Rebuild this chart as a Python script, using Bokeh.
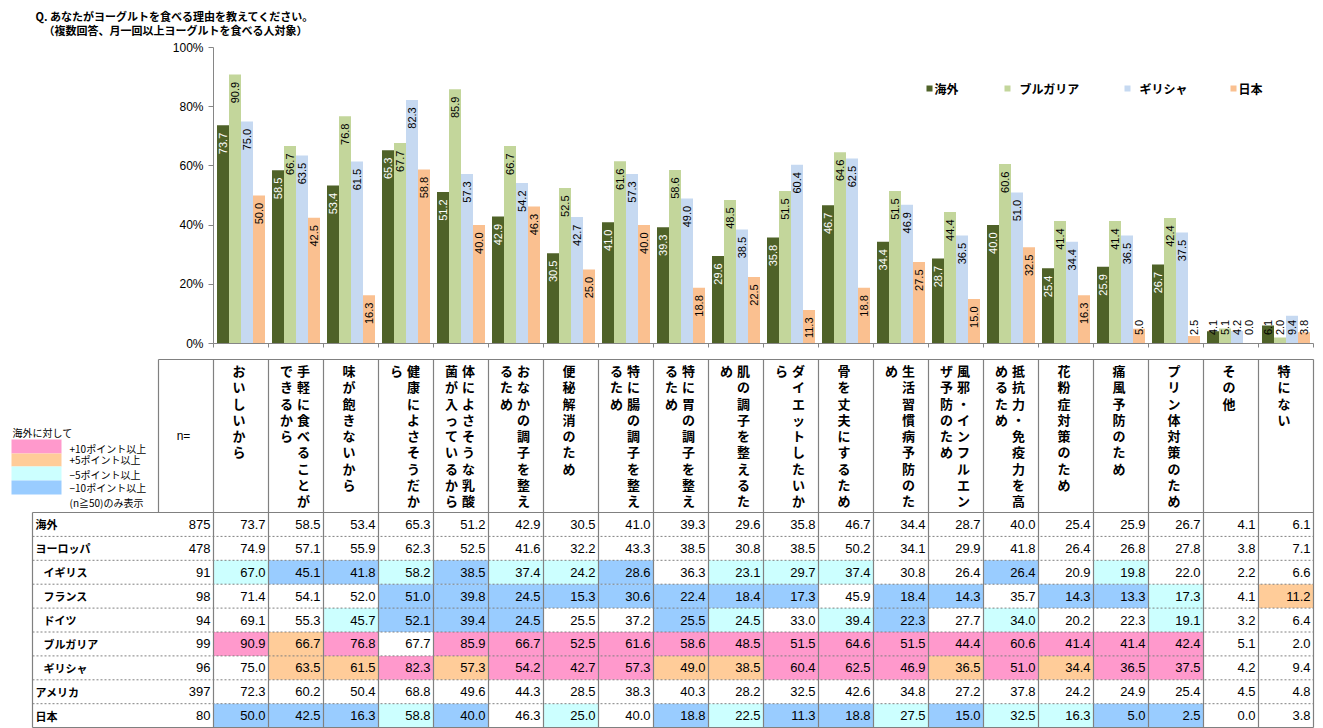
import numpy as np
from bokeh.plotting import figure
from bokeh.models import Range1d, FixedTicker, PrintfTickFormatter, ColumnDataSource
from bokeh.layouts import column
from bokeh.embed import file_html
from bokeh.resources import INLINE
from bokeh.core.properties import value

# ---------------- data ----------------
title_lines = ["Q. あなたがヨーグルトを食べる理由を教えてください。",
               "（複数回答、月一回以上ヨーグルトを食べる人対象）"]

categories = ["おいしいから", "手軽に食べることができるから", "味が飽きないから", "健康によさそうだから",
              "体によさそうな乳酸菌が入っているから", "おなかの調子を整えるため", "便秘解消のため",
              "特に腸の調子を整えるため", "特に胃の調子を整えるため", "肌の調子を整えるため",
              "ダイエットしたいから", "骨を丈夫にするため", "生活習慣病予防のため",
              "風邪・インフルエンザ予防のため", "抵抗力・免疫力を高めるため", "花粉症対策のため",
              "痛風予防のため", "プリン体対策のため", "その他", "特にない"]

kaigai   = [73.7, 58.5, 53.4, 65.3, 51.2, 42.9, 30.5, 41.0, 39.3, 29.6, 35.8, 46.7, 34.4, 28.7, 40.0, 25.4, 25.9, 26.7, 4.1, 6.1]
europe   = [74.9, 57.1, 55.9, 62.3, 52.5, 41.6, 32.2, 43.3, 38.5, 30.8, 38.5, 50.2, 34.1, 29.9, 41.8, 26.4, 26.8, 27.8, 3.8, 7.1]
uk       = [67.0, 45.1, 41.8, 58.2, 38.5, 37.4, 24.2, 28.6, 36.3, 23.1, 29.7, 37.4, 30.8, 26.4, 26.4, 20.9, 19.8, 22.0, 2.2, 6.6]
france   = [71.4, 54.1, 52.0, 51.0, 39.8, 24.5, 15.3, 30.6, 22.4, 18.4, 17.3, 45.9, 18.4, 14.3, 35.7, 14.3, 13.3, 17.3, 4.1, 11.2]
germany  = [69.1, 55.3, 45.7, 52.1, 39.4, 24.5, 25.5, 37.2, 25.5, 24.5, 33.0, 39.4, 22.3, 27.7, 34.0, 20.2, 22.3, 19.1, 3.2, 6.4]
bulgaria = [90.9, 66.7, 76.8, 67.7, 85.9, 66.7, 52.5, 61.6, 58.6, 48.5, 51.5, 64.6, 51.5, 44.4, 60.6, 41.4, 41.4, 42.4, 5.1, 2.0]
greece   = [75.0, 63.5, 61.5, 82.3, 57.3, 54.2, 42.7, 57.3, 49.0, 38.5, 60.4, 62.5, 46.9, 36.5, 51.0, 34.4, 36.5, 37.5, 4.2, 9.4]
usa      = [72.3, 60.2, 50.4, 68.8, 49.6, 44.3, 28.5, 38.3, 40.3, 28.2, 32.5, 42.6, 34.8, 27.2, 37.8, 24.2, 24.9, 25.4, 4.5, 4.8]
japan    = [50.0, 42.5, 16.3, 58.8, 40.0, 46.3, 25.0, 40.0, 18.8, 22.5, 11.3, 18.8, 27.5, 15.0, 32.5, 16.3, 5.0, 2.5, 0.0, 3.8]

row_labels = ["海外", "ヨーロッパ", "イギリス", "フランス", "ドイツ", "ブルガリア", "ギリシャ", "アメリカ", "日本"]
row_sub    = [False, False, True, True, True, True, True, False, False]
row_n      = [875, 478, 91, 98, 94, 99, 96, 397, 80]
row_values = [kaigai, europe, uk, france, germany, bulgaria, greece, usa, japan]
row_marks = ["....................",
             "....................",
             "CBBCBCCB.CCC..B.C...",
             "...BBBBBBBB.BB.BBC.O",
             "..CBBB..BC.CB.C..C..",
             "POP.PPPPPPPPPPPPPP..",
             ".OOPOPPPOOPPPOPOPP..",
             "....................",
             "BBBCB.C.BCBBCBCCBB.."]

series_names = ["海外", "ブルガリア", "ギリシャ", "日本"]
series_values = [kaigai, bulgaria, greece, japan]

legend_title = "海外に対して"
legend_labels = ["+10ポイント以上", "+5ポイント以上", "−5ポイント以上", "−10ポイント以上"]
legend_note = "(n≧50)のみ表示"
y_ticks = [0, 20, 40, 60, 80, 100]

# ---------------- styles ----------------
bar_colors = ["#4F6228", "#C3D69B", "#C6D9F1", "#FAC090"]
mark_colors = {"P": "#FF99CC", "O": "#FFCC99", "C": "#CCFFFF", "B": "#99CCFF"}
LINE = "#808080"
JP = "Noto Sans CJK JP"
NUM = "Liberation Sans"
W = 1323

COL_PX = 55.0
def cx(sx):   # reference pixel x -> category units
    return (sx - 213) / COL_PX
def cy(sy):   # reference pixel y -> percent (chart)
    return (343 - sy) / 2.96

def no_align(fig):
    try:
        fig.frame_align = False
    except Exception:
        pass

# ---------------- title strip ----------------
hdr = figure(width=W, height=40, x_range=Range1d(cx(0), cx(W)), y_range=Range1d(cy(40), cy(0)),
             min_border=0, x_axis_type=None, y_axis_type=None,
             output_backend="svg", toolbar_location=None, tools="")
hdr.outline_line_color = None
no_align(hdr)
hdr.text(x=[cx(35), cx(43)], y=[cy(15), cy(29)], text=title_lines, text_align="left",
         text_baseline="middle", text_font=value(JP), text_font_size="11px",
         text_font_style="bold", text_color="#000000")

# ---------------- bar chart ----------------
p = figure(frame_width=1100, frame_height=296, x_range=Range1d(0, 20), y_range=Range1d(0, 100),
           min_border_left=213, min_border_right=W - 1313, min_border_top=7, min_border_bottom=9,
           output_backend="svg", toolbar_location=None, tools="")
no_align(p)
p.outline_line_color = None
p.grid.visible = False

p.xaxis.ticker = FixedTicker(ticks=list(range(21)))
p.xaxis.major_label_overrides = {i: "" for i in range(21)}
p.xaxis.major_label_text_font_size = "1px"
p.xaxis.major_label_standoff = 0
p.xaxis.major_tick_out = 4
p.xaxis.major_tick_in = 0
p.xaxis.minor_tick_line_color = None
p.xaxis.axis_line_color = "#868686"
p.xaxis.major_tick_line_color = "#868686"

p.yaxis.ticker = FixedTicker(ticks=y_ticks)
p.yaxis.formatter = PrintfTickFormatter(format="%d%%")
p.yaxis.major_tick_out = 5
p.yaxis.major_tick_in = 0
p.yaxis.minor_tick_line_color = None
p.yaxis.axis_line_color = "#868686"
p.yaxis.major_tick_line_color = "#868686"
p.yaxis.major_label_text_font = NUM
p.yaxis.major_label_text_font_size = "12px"
p.yaxis.major_label_text_color = "#000000"

BAR_W = 12 / COL_PX
for k, (name, vals) in enumerate(zip(series_names, series_values)):
    xs = [i + 0.5 + (k - 1.5) * BAR_W for i in range(len(vals))]
    src = ColumnDataSource(dict(x=xs, top=vals))
    p.vbar(x="x", top="top", width=BAR_W, source=src, fill_color=bar_colors[k], line_color=None)
    ly = [max(v - 2.5, 8.0) for v in vals]
    lc = ["#FFFFFF" if (k == 0 and v >= 10) else "#000000" for v in vals]
    lsrc = ColumnDataSource(dict(x=xs, y=ly, t=[f"{v:.1f}" for v in vals], c=lc))
    p.text(x="x", y="y", text="t", source=lsrc, angle=np.pi / 2, text_align="right",
           text_baseline="middle", text_color="c", text_font=value(NUM), text_font_size="11px")

# legend (top right)
leg_sq_x = [cx(929), cx(1007), cx(1127), cx(1233)]
leg_tx_x = [cx(934), cx(1019), cx(1139), cx(1238)]
p.scatter(x=leg_sq_x, y=[cy(88)] * 4, marker="square", size=6, color=bar_colors, line_color=None)
p.text(x=leg_tx_x, y=[cy(88)] * 4, text=series_names, text_align="left", text_baseline="middle",
       text_font=value(JP), text_font_size="12px", text_font_style="bold", text_color="#000000")

# ---------------- table ----------------
ROW_H = 23.9
def tx(sx):
    return (sx - 213) / COL_PX
def ty(sy):   # reference pixel y -> row units
    return (sy - 512) / ROW_H

t = figure(width=W, height=728 - 352, x_range=Range1d(tx(0), tx(W)), y_range=Range1d(ty(728), ty(352)),
           min_border=0, x_axis_type=None, y_axis_type=None,
           output_backend="svg", toolbar_location=None, tools="")
no_align(t)
t.outline_line_color = None

nrows = len(row_labels)
ncols = len(categories)

# highlighted cells
q = dict(left=[], right=[], top=[], bottom=[], color=[])
for r, marks in enumerate(row_marks):
    for c, m in enumerate(marks):
        if m in mark_colors:
            q["left"].append(c); q["right"].append(c + 1)
            q["top"].append(r); q["bottom"].append(r + 1)
            q["color"].append(mark_colors[m])
t.quad(left="left", right="right", top="top", bottom="bottom", color="color",
       source=ColumnDataSource(q), line_color=None)

hdr_top = ty(359)
left_edge = tx(32)
seg = dict(x0=[], y0=[], x1=[], y1=[])
def addseg(x0, y0, x1, y1):
    seg["x0"].append(x0); seg["y0"].append(y0); seg["x1"].append(x1); seg["y1"].append(y1)
for c in range(ncols + 1):
    addseg(c, hdr_top, c, nrows)
addseg(-1, hdr_top, -1, 0)
addseg(left_edge, 0, left_edge, nrows)
addseg(-1, hdr_top, ncols, hdr_top)
addseg(left_edge, 0, ncols, 0)
addseg(left_edge, nrows, ncols, nrows)
t.segment(x0="x0", y0="y0", x1="x1", y1="y1", source=ColumnDataSource(seg),
          line_color=LINE, line_width=1.2)
dots = dict(x0=[left_edge] * (nrows - 1), x1=[ncols] * (nrows - 1),
            y=list(range(1, nrows)))
t.segment(x0="x0", y0="y", x1="x1", y1="y", source=ColumnDataSource(dots),
          line_color=LINE, line_width=1, line_dash="2 2")

# row labels and n
t.text(x=[tx(43) if s else tx(35) for s in row_sub], y=[r + 0.5 for r in range(nrows)], text=row_labels,
       text_align="left", text_baseline="middle", text_font=value(JP), text_font_size="11px",
       text_font_style="bold", text_color="#000000")
t.text(x=[tx(210)] * nrows, y=[r + 0.5 for r in range(nrows)], text=[str(n) for n in row_n],
       text_align="right", text_baseline="middle", text_font=value(NUM), text_font_size="13px",
       text_color="#000000")

# values
vx, vy, vt = [], [], []
for r, vals in enumerate(row_values):
    for c, v in enumerate(vals):
        vx.append(c + 1 - 3 / COL_PX); vy.append(r + 0.5); vt.append(f"{v:.1f}")
t.text(x=vx, y=vy, text=vt, text_align="right", text_baseline="middle", text_font=value(NUM),
       text_font_size="13px", text_color="#000000")

# header: vertical text, 9 characters per column, columns run right to left
hx, hy, ht = [], [], []
PER_COL = 9
for c, name in enumerate(categories):
    chunks = [name[i:i + PER_COL] for i in range(0, len(name), PER_COL)]
    if len(chunks) == 1:
        xs = [c + 0.5 - 2 / COL_PX]
    else:
        xs = [c + 0.5 + 7.5 / COL_PX, c + 0.5 - 9.5 / COL_PX]
    for j, chunk in enumerate(chunks):
        for k, ch in enumerate(chunk):
            hx.append(xs[j]); hy.append(ty(370 + 16.25 * k)); ht.append(ch)
t.text(x=hx, y=hy, text=ht, text_align="center", text_baseline="middle", text_font=value(JP),
       text_font_size="13px", text_font_style="bold", text_color="#000000")
t.text(x=[tx(183)], y=[ty(435)], text=["n="], text_align="center", text_baseline="middle",
       text_font=value(NUM), text_font_size="12px", text_color="#000000")

# colour legend
sw_edges = [439, 453, 466, 480, 494]
sw = dict(left=[tx(11)] * 4, right=[tx(61)] * 4, top=[ty(e) for e in sw_edges[:-1]],
          bottom=[ty(e) for e in sw_edges[1:]], color=[mark_colors[m] for m in "POCB"])
t.quad(left="left", right="right", top="top", bottom="bottom", color="color",
       source=ColumnDataSource(sw), line_color=None)
t.text(x=[tx(12)], y=[ty(432)], text=[legend_title], text_align="left", text_baseline="middle",
       text_font=value(JP), text_font_size="10px", text_color="#000000")
t.text(x=[tx(69)] * 5, y=[ty(448), ty(459), ty(474), ty(487), ty(502)],
       text=legend_labels + [legend_note], text_align="left", text_baseline="middle",
       text_font=value(JP), text_font_size="10px", text_color="#000000")

layout = column(hdr, p, t, spacing=0)
open("out.html", "w").write(file_html(layout, INLINE))
